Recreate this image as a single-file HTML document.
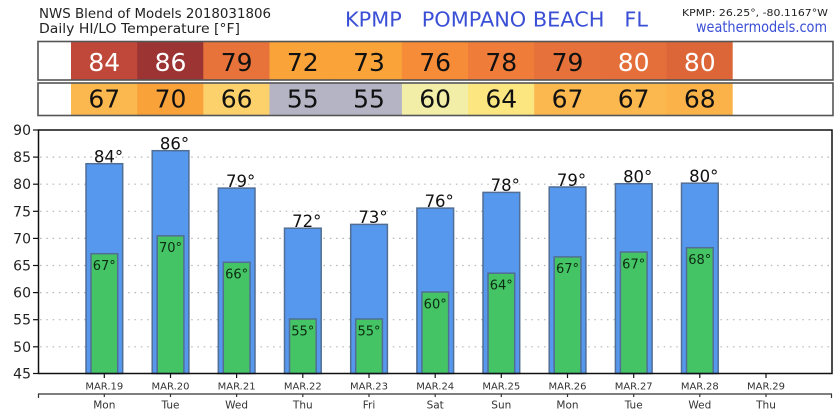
<!DOCTYPE html>
<html><head><meta charset="utf-8"><style>
html,body{margin:0;padding:0;background:#fff;}
svg{display:block;}
text{font-family:"DejaVu Sans","Liberation Sans",sans-serif;}
</style></head><body>
<svg width="840" height="420" viewBox="0 0 840 420" xmlns="http://www.w3.org/2000/svg">
<rect width="840" height="420" fill="#fff"/>
<!-- header -->
<text x="39" y="18" font-size="13.5" fill="#222" textLength="232" lengthAdjust="spacingAndGlyphs">NWS Blend of Models 2018031806</text>
<text x="39" y="33" font-size="13.5" fill="#222" textLength="201" lengthAdjust="spacingAndGlyphs">Daily HI/LO Temperature [°F]</text>
<text x="345" y="26.5" font-size="20" fill="#3a4fd6" textLength="303" lengthAdjust="spacingAndGlyphs" xml:space="preserve">KPMP   POMPANO BEACH   FL</text>
<text x="682" y="16" font-size="10" fill="#222" textLength="146" lengthAdjust="spacingAndGlyphs">KPMP: 26.25°, -80.1167°W</text>
<text x="696" y="32" font-size="15" fill="#3a4fd6" textLength="131" lengthAdjust="spacingAndGlyphs">weathermodels.com</text>

<!-- HI row -->
<g>
<rect x="71" y="42" width="66.5" height="38" fill="#c0483a"/>
<rect x="137.2" y="42" width="66.5" height="38" fill="#9c3434"/>
<rect x="203.3" y="42" width="66.5" height="38" fill="#e8733a"/>
<rect x="269.5" y="42" width="66.5" height="38" fill="#f9a339"/>
<rect x="335.7" y="42" width="66.5" height="38" fill="#f9a339"/>
<rect x="401.9" y="42" width="66.5" height="38" fill="#f68b38"/>
<rect x="468.0" y="42" width="66.5" height="38" fill="#ef7c39"/>
<rect x="534.2" y="42" width="66.5" height="38" fill="#e6713a"/>
<rect x="600.4" y="42" width="66.5" height="38" fill="#e46f3b"/>
<rect x="666.5" y="42" width="66.2" height="38" fill="#dc6638"/>
</g>
<rect x="38" y="41.5" width="795" height="38.5" fill="none" stroke="#555" stroke-width="1.6"/>
<g font-size="25" text-anchor="middle">
<text x="104.3" y="71" fill="#fff">84</text>
<text x="170.5" y="71" fill="#fff">86</text>
<text x="236.6" y="71" fill="#111">79</text>
<text x="302.8" y="71" fill="#111">72</text>
<text x="369.0" y="71" fill="#111">73</text>
<text x="435.2" y="71" fill="#111">76</text>
<text x="501.3" y="71" fill="#111">78</text>
<text x="567.5" y="71" fill="#111">79</text>
<text x="633.7" y="71" fill="#fff">80</text>
<text x="699.8" y="71" fill="#fff">80</text>
</g>

<!-- LO row -->
<g>
<rect x="71" y="83.5" width="66.5" height="31.5" fill="#fbb84e"/>
<rect x="137.2" y="83.5" width="66.5" height="31.5" fill="#f9a23a"/>
<rect x="203.3" y="83.5" width="66.5" height="31.5" fill="#fcd06a"/>
<rect x="269.5" y="83.5" width="66.5" height="31.5" fill="#b4b4c4"/>
<rect x="335.7" y="83.5" width="66.5" height="31.5" fill="#b4b4c4"/>
<rect x="401.9" y="83.5" width="66.5" height="31.5" fill="#f2eea8"/>
<rect x="468.0" y="83.5" width="66.5" height="31.5" fill="#fbe680"/>
<rect x="534.2" y="83.5" width="66.5" height="31.5" fill="#fbb84e"/>
<rect x="600.4" y="83.5" width="66.5" height="31.5" fill="#fbb84e"/>
<rect x="666.5" y="83.5" width="66.2" height="31.5" fill="#fbb248"/>
</g>
<rect x="38" y="83" width="795" height="32.5" fill="none" stroke="#555" stroke-width="1.6"/>
<g font-size="25" text-anchor="middle" fill="#111">
<text x="104.3" y="107.5">67</text>
<text x="170.5" y="107.5">70</text>
<text x="236.6" y="107.5">66</text>
<text x="302.8" y="107.5">55</text>
<text x="369.0" y="107.5">55</text>
<text x="435.2" y="107.5">60</text>
<text x="501.3" y="107.5">64</text>
<text x="567.5" y="107.5">67</text>
<text x="633.7" y="107.5">67</text>
<text x="699.8" y="107.5">68</text>
</g>

<!-- gridlines -->
<g stroke="#b5b5b5" stroke-width="1.2" stroke-dasharray="1.5 4.8">
<line x1="40" y1="157.1" x2="832" y2="157.1"/>
<line x1="40" y1="184.2" x2="832" y2="184.2"/>
<line x1="40" y1="211.3" x2="832" y2="211.3"/>
<line x1="40" y1="238.4" x2="832" y2="238.4"/>
<line x1="40" y1="265.5" x2="832" y2="265.5"/>
<line x1="40" y1="292.6" x2="832" y2="292.6"/>
<line x1="40" y1="319.7" x2="832" y2="319.7"/>
<line x1="40" y1="346.8" x2="832" y2="346.8"/>
</g>

<!-- blue bars -->
<g fill="#5598ee" stroke="#526e94" stroke-width="1.5">
<rect x="86.0" y="163.7" width="36.7" height="209.8"/>
<rect x="152.2" y="150.7" width="36.7" height="222.8"/>
<rect x="218.3" y="188.1" width="36.7" height="185.4"/>
<rect x="284.5" y="228.2" width="36.7" height="145.3"/>
<rect x="350.7" y="224.4" width="36.7" height="149.1"/>
<rect x="416.9" y="208.1" width="36.7" height="165.4"/>
<rect x="483.0" y="192.4" width="36.7" height="181.1"/>
<rect x="549.2" y="187.0" width="36.7" height="186.5"/>
<rect x="615.4" y="183.7" width="36.7" height="189.8"/>
<rect x="681.5" y="183.2" width="36.7" height="190.3"/>
</g>
<!-- green bars -->
<g fill="#44c465" stroke="#526e94" stroke-width="1.5">
<rect x="91.0" y="253.7" width="26.7" height="119.8"/>
<rect x="157.2" y="235.8" width="26.7" height="137.7"/>
<rect x="223.3" y="262.3" width="26.7" height="111.2"/>
<rect x="289.5" y="319.0" width="26.7" height="54.5"/>
<rect x="355.7" y="319.0" width="26.7" height="54.5"/>
<rect x="421.9" y="292.0" width="26.7" height="81.5"/>
<rect x="488.0" y="273.2" width="26.7" height="100.3"/>
<rect x="554.2" y="256.9" width="26.7" height="116.6"/>
<rect x="620.4" y="252.0" width="26.7" height="121.5"/>
<rect x="686.5" y="247.7" width="26.7" height="125.8"/>
</g>

<!-- blue labels -->
<g font-size="16.5" text-anchor="middle" fill="#111">
<text x="108.5" y="162.5">84°</text>
<text x="174.5" y="149.5">86°</text>
<text x="240.6" y="187">79°</text>
<text x="306.8" y="227">72°</text>
<text x="373.0" y="223.2">73°</text>
<text x="439.2" y="207">76°</text>
<text x="505.3" y="191.2">78°</text>
<text x="571.5" y="185.8">79°</text>
<text x="637.7" y="182.5">80°</text>
<text x="703.8" y="182">80°</text>
</g>
<!-- green labels -->
<g font-size="13" text-anchor="middle" fill="#0d2a12">
<text x="104.3" y="270">67°</text>
<text x="170.5" y="252.1">70°</text>
<text x="236.6" y="278.6">66°</text>
<text x="302.8" y="335.3">55°</text>
<text x="369.0" y="335.3">55°</text>
<text x="435.2" y="308.3">60°</text>
<text x="501.3" y="289.5">64°</text>
<text x="567.5" y="273.2">67°</text>
<text x="633.7" y="268.3">67°</text>
<text x="699.8" y="264">68°</text>
</g>

<!-- frame -->
<rect x="38.5" y="130" width="793.5" height="243.5" fill="none" stroke="#111" stroke-width="1.5"/>
<!-- y ticks -->
<g stroke="#111" stroke-width="1.2">
<line x1="33" y1="130" x2="38" y2="130"/>
<line x1="33" y1="157.1" x2="38" y2="157.1"/>
<line x1="33" y1="184.2" x2="38" y2="184.2"/>
<line x1="33" y1="211.3" x2="38" y2="211.3"/>
<line x1="33" y1="238.4" x2="38" y2="238.4"/>
<line x1="33" y1="265.5" x2="38" y2="265.5"/>
<line x1="33" y1="292.6" x2="38" y2="292.6"/>
<line x1="33" y1="319.7" x2="38" y2="319.7"/>
<line x1="33" y1="346.8" x2="38" y2="346.8"/>
<line x1="33" y1="373.5" x2="38" y2="373.5"/>
</g>
<g font-size="14" text-anchor="end" fill="#222">
<text x="31" y="135">90</text>
<text x="31" y="162.1">85</text>
<text x="31" y="189.2">80</text>
<text x="31" y="216.3">75</text>
<text x="31" y="243.4">70</text>
<text x="31" y="270.5">65</text>
<text x="31" y="297.6">60</text>
<text x="31" y="324.7">55</text>
<text x="31" y="351.8">50</text>
<text x="31" y="378.5">45</text>
</g>
<!-- x ticks -->
<g stroke="#111" stroke-width="1.2">
<line x1="104.3" y1="374" x2="104.3" y2="378"/>
<line x1="170.5" y1="374" x2="170.5" y2="378"/>
<line x1="236.6" y1="374" x2="236.6" y2="378"/>
<line x1="302.8" y1="374" x2="302.8" y2="378"/>
<line x1="369.0" y1="374" x2="369.0" y2="378"/>
<line x1="435.2" y1="374" x2="435.2" y2="378"/>
<line x1="501.3" y1="374" x2="501.3" y2="378"/>
<line x1="567.5" y1="374" x2="567.5" y2="378"/>
<line x1="633.7" y1="374" x2="633.7" y2="378"/>
<line x1="699.8" y1="374" x2="699.8" y2="378"/>
<line x1="766.0" y1="374" x2="766.0" y2="378"/>
</g>
<g font-size="10" text-anchor="middle" fill="#333">
<text x="104.3" y="389.5">MAR.19</text>
<text x="170.5" y="389.5">MAR.20</text>
<text x="236.6" y="389.5">MAR.21</text>
<text x="302.8" y="389.5">MAR.22</text>
<text x="369.0" y="389.5">MAR.23</text>
<text x="435.2" y="389.5">MAR.24</text>
<text x="501.3" y="389.5">MAR.25</text>
<text x="567.5" y="389.5">MAR.26</text>
<text x="633.7" y="389.5">MAR.27</text>
<text x="699.8" y="389.5">MAR.28</text>
<text x="766.0" y="389.5">MAR.29</text>
</g>
<!-- secondary axis -->
<line x1="38" y1="394" x2="832" y2="394" stroke="#333" stroke-width="1.2"/>
<g stroke="#333" stroke-width="1.2">
<line x1="38.5" y1="394" x2="38.5" y2="398"/>
<line x1="831.5" y1="394" x2="831.5" y2="398"/>
<line x1="104.3" y1="394" x2="104.3" y2="397"/>
<line x1="170.5" y1="394" x2="170.5" y2="397"/>
<line x1="236.6" y1="394" x2="236.6" y2="397"/>
<line x1="302.8" y1="394" x2="302.8" y2="397"/>
<line x1="369.0" y1="394" x2="369.0" y2="397"/>
<line x1="435.2" y1="394" x2="435.2" y2="397"/>
<line x1="501.3" y1="394" x2="501.3" y2="397"/>
<line x1="567.5" y1="394" x2="567.5" y2="397"/>
<line x1="633.7" y1="394" x2="633.7" y2="397"/>
<line x1="699.8" y1="394" x2="699.8" y2="397"/>
<line x1="766.0" y1="394" x2="766.0" y2="397"/>
</g>
<g font-size="10.5" text-anchor="middle" fill="#333">
<text x="104.3" y="408.5">Mon</text>
<text x="170.5" y="408.5">Tue</text>
<text x="236.6" y="408.5">Wed</text>
<text x="302.8" y="408.5">Thu</text>
<text x="369.0" y="408.5">Fri</text>
<text x="435.2" y="408.5">Sat</text>
<text x="501.3" y="408.5">Sun</text>
<text x="567.5" y="408.5">Mon</text>
<text x="633.7" y="408.5">Tue</text>
<text x="699.8" y="408.5">Wed</text>
<text x="766.0" y="408.5">Thu</text>
</g>
</svg>
</body></html>
